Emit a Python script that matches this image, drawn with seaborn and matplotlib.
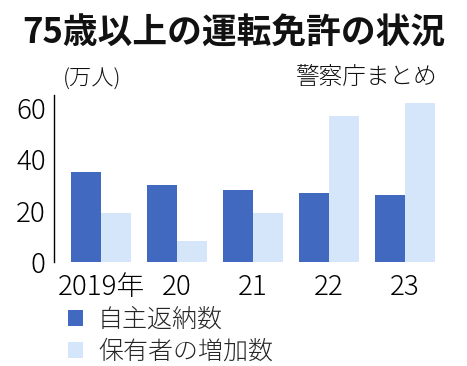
import matplotlib
matplotlib.use("Agg")
import matplotlib.pyplot as plt
import seaborn as sns
import pandas as pd
from matplotlib.patches import Patch

years = ["2019年", "20", "21", "22", "23"]
returned = [35, 30, 28, 27, 26]
increase = [19, 8, 19, 57, 62]
series_names = ["自主返納数", "保有者の増加数"]
yticks = [0, 20, 40, 60]

sns.set_style("white")
plt.rcParams['font.family'] = ['Noto Sans CJK JP', 'DejaVu Sans']

df = pd.DataFrame({
    "year": years * 2,
    "value": returned + increase,
    "series": [series_names[0]] * len(years) + [series_names[1]] * len(years),
})

colors = ["#4169bf", "#d5e5fa"]

fig = plt.figure(figsize=(4.67, 3.66), dpi=100)
ax = fig.add_axes([54/467, (366-262)/366, 389/467, 167/366])
sns.barplot(data=df, x="year", y="value", hue="series", palette=colors,
            width=0.79, gap=0, saturation=1, ax=ax, legend=False, linewidth=0)

ax.set_xlim(-0.62, 4.5)
ax.set_ylim(0, 65)
ax.set_yticks(yticks)
ax.set_xlabel("")
ax.set_ylabel("")
for s in ["top", "right", "bottom"]:
    ax.spines[s].set_visible(False)
ax.spines["left"].set_color("black")
ax.spines["left"].set_linewidth(1.0)
ax.tick_params(axis="y", direction="in", length=6, width=1.2, color="#777777",
               labelsize=20, pad=6, labelcolor="black")
ax.tick_params(axis="x", length=0, labelsize=20, pad=8, labelcolor="black")
for lab in ax.get_xticklabels() + ax.get_yticklabels():
    lab.set_fontweight("light")

fig.text(0.5, 1 - 33/366, "75歳以上の運転免許の状況", ha="center", va="center",
         fontsize=25, fontweight="bold", color="#111111")
fig.text(63/467, 1 - 80/366, "(万人)", ha="left", va="center", fontsize=16,
         color="#111111", fontweight="light")
fig.text(437/467, 1 - 77/366, "警察庁まとめ", ha="right", va="center", fontsize=17,
         color="#111111", fontweight="light")

handles = [Patch(facecolor=c, edgecolor="none") for c in colors]
leg = fig.legend(handles, series_names, loc="upper left",
           bbox_to_anchor=(68/467, 1 - 306/366), bbox_transform=fig.transFigure,
           frameon=False, fontsize=18, handlelength=0.6, handleheight=0.6,
           handletextpad=0.6, labelspacing=0.22, borderaxespad=0, borderpad=0)
for t in leg.get_texts():
    t.set_fontweight("light")

fig.savefig("out.png", dpi=100)
